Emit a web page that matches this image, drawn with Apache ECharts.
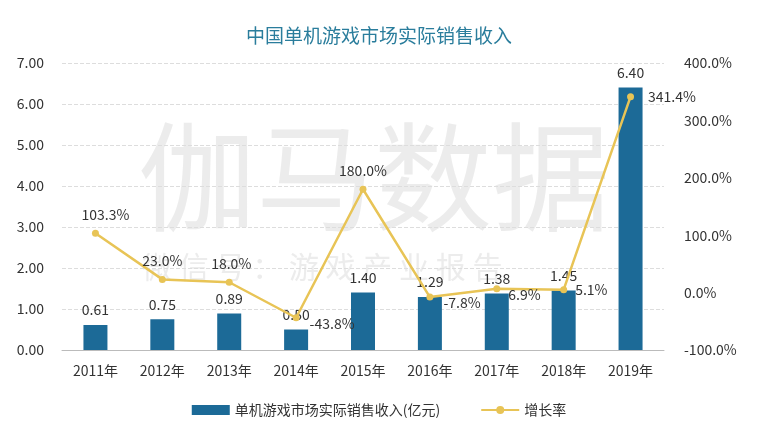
<!DOCTYPE html>
<html><head><meta charset="utf-8">
<script src="https://cdn.jsdelivr.net/npm/echarts@6/dist/echarts.min.js"></script>
<style>html,body{margin:0;padding:0;background:#fff}#c{width:758px;height:434px}</style>
</head><body><div id="c"></div>
<script>
const categories = ['2011年','2012年','2013年','2014年','2015年','2016年','2017年','2018年','2019年'];
const revenue = [0.61, 0.75, 0.89, 0.50, 1.40, 1.29, 1.38, 1.45, 6.40];
const growth = [103.3, 23.0, 18.0, -43.8, 180.0, -7.8, 6.9, 5.1, 341.4];
const barName = '单机游戏市场实际销售收入(亿元)';
const lineName = '增长率';

const growthLabelPos = ['top','top','top','right','top','right','right','right','right'];
const growthLabelOffset = [[10,0],[0,0],[2,0],[2,6],[0,0],[2,6],[0,6],[0,0],[6,0]];

const chart = echarts.init(document.getElementById('c'));
const font = 'Microsoft YaHei, "Noto Sans CJK SC", sans-serif';
chart.setOption({
  animation:false,
  textStyle:{fontFamily:font},
  title:{text:'中国单机游戏市场实际销售收入',left:'center',top:21,textStyle:{color:'#2a7d9c',fontSize:19,fontWeight:'normal',fontFamily:font}},
  graphic:[
    {type:'text',left:138,top:118,silent:true,z:0,style:{text:'伽马数据',fontSize:118,fill:'rgba(200,200,200,0.35)',fontFamily:font,letterSpacing:18}},
    {type:'text',left:142,top:252,silent:true,z:0,style:{text:'微 信 号 ： 游 戏 产 业 报 告',fontSize:30,fill:'rgba(200,200,200,0.35)',fontFamily:font}}
  ],
  grid:{left:62,right:94,top:63,bottom:84},
  legend:{bottom:12,left:'center',itemGap:40,itemWidth:38,itemHeight:10,textStyle:{color:'#333',fontSize:14,fontFamily:font},
    data:[{name:barName,icon:'rect'},{name:lineName}]},
  xAxis:{type:'category',data:categories,axisTick:{show:false},axisLine:{lineStyle:{color:'#bbb'}},
    axisLabel:{color:'#333',fontSize:14,margin:14,fontFamily:font}},
  yAxis:[
    {type:'value',min:0,max:7,interval:1,axisLabel:{formatter:v=>v.toFixed(2),color:'#333',fontSize:14,margin:18},
     splitLine:{lineStyle:{type:'dashed',color:'#ddd'}},axisLine:{show:false},axisTick:{show:false}},
    {type:'value',min:-100,max:400,interval:100,axisLabel:{formatter:v=>v.toFixed(1)+'%',color:'#333',fontSize:14,margin:20},
     splitLine:{show:false},axisLine:{show:false},axisTick:{show:false}}
  ],
  series:[
    {name:barName,type:'bar',data:revenue,barWidth:24,itemStyle:{color:'#1c6a97'},z:2,
     label:{show:true,position:'top',distance:8,formatter:p=>p.value.toFixed(2),color:'#333',fontSize:14}},
    {name:lineName,type:'line',yAxisIndex:1,z:3,symbol:'circle',symbolSize:7,
     itemStyle:{color:'#e8c456'},lineStyle:{color:'#e8c456',width:2.5},
     data:growth.map((v,i)=>({value:v,label:{position:growthLabelPos[i],offset:growthLabelOffset[i]}})),
     label:{show:true,formatter:p=>p.value.toFixed(1)+'%',color:'#333',fontSize:14,distance:8}}
  ]
});
</script></body></html>
